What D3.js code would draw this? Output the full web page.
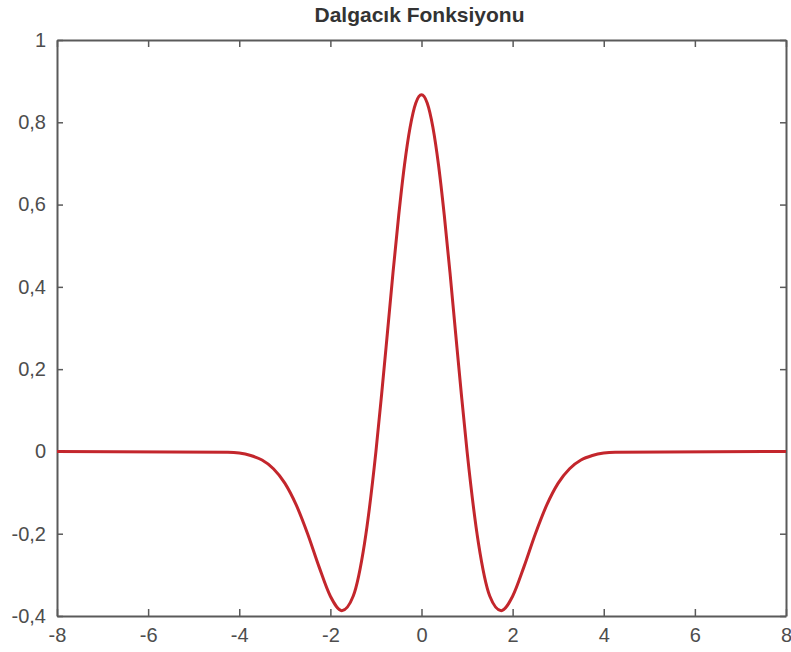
<!DOCTYPE html>
<html>
<head>
<meta charset="utf-8">
<title>Dalgacık Fonksiyonu</title>
<script src="https://d3js.org/d3.v7.min.js"></script>
<style>
  body { margin: 0; background: #fff; }
  svg text { font-family: "Liberation Sans", Arial, sans-serif; }
</style>
</head>
<body>
<div id="chart"></div>
<script>
// values (symmetric curve, flat zero outside |x| > 4.25)
var xs = [-8, -4.25, -4, -3.75, -3.5, -3.25, -3, -2.75, -2.5, -2.25, -2, -1.75, -1.5, -1.25, -1,
          -0.875, -0.75, -0.625, -0.5, -0.375, -0.25, -0.125, 0, 0.125, 0.25, 0.375, 0.5, 0.625, 0.75, 0.875,
          1, 1.25, 1.5, 1.75, 2, 2.25, 2.5, 2.75, 3, 3.25, 3.5, 3.75, 4, 4.25, 8];
var ys = [0, -0.002, -0.004, -0.010, -0.021, -0.042, -0.077, -0.130, -0.200, -0.280, -0.352, -0.387, -0.352, -0.223, 0,
          0.139, 0.286, 0.435, 0.574, 0.695, 0.788, 0.847, 0.867, 0.847, 0.788, 0.695, 0.574, 0.435, 0.286, 0.139,
          0, -0.223, -0.352, -0.387, -0.352, -0.280, -0.200, -0.130, -0.077, -0.042, -0.021, -0.010, -0.004, -0.002, 0];
var xTicks = [-8, -6, -4, -2, 0, 2, 4, 6, 8];
var yTicks = [-0.4, -0.2, 0, 0.2, 0.4, 0.6, 0.8, 1];
var title = "Dalgacık Fonksiyonu";

var W = 791, H = 652;
var m = {left: 57, right: 786, top: 40, bottom: 616};

var svg = d3.select("#chart").append("svg")
  .attr("width", W).attr("height", H);

var x = d3.scaleLinear().domain([-8, 8]).range([m.left, m.right]);
var y = d3.scaleLinear().domain([-0.4, 1]).range([m.bottom, m.top]);

// decimal comma, plain hyphen for minus
var tr = d3.formatLocale({decimal: ",", thousands: ".", grouping: [3], currency: ["", ""], minus: "-"});
var fmtY = function(d) { return d === 0 || d === 1 ? String(d) : tr.format(".1f")(d); };
var fmtX = tr.format("d");

var axisColor = "#5a5a5a";

// bottom & top axes, ticks pointing inward
var gx = svg.append("g").attr("transform", "translate(0," + m.bottom + ")")
  .call(d3.axisBottom(x).tickValues(xTicks).tickSizeInner(-7).tickSizeOuter(0).tickPadding(12).tickFormat(fmtX));
var gxt = svg.append("g").attr("transform", "translate(0," + m.top + ")")
  .call(d3.axisTop(x).tickValues(xTicks).tickSizeInner(-7).tickSizeOuter(0).tickFormat(""));
var gy = svg.append("g").attr("transform", "translate(" + m.left + ",0)")
  .call(d3.axisLeft(y).tickValues(yTicks).tickSizeInner(-6).tickSizeOuter(0).tickPadding(11).tickFormat(fmtY));
var gyr = svg.append("g").attr("transform", "translate(" + m.right + ",0)")
  .call(d3.axisRight(y).tickValues(yTicks).tickSizeInner(-6).tickSizeOuter(0).tickFormat(""));

[gx, gxt, gy, gyr].forEach(function(g) {
  g.select(".domain").attr("stroke", axisColor).attr("stroke-width", 2);
  g.selectAll(".tick line").attr("stroke", axisColor).attr("stroke-width", 1.5);
  g.selectAll(".tick text").attr("fill", "#4d4d4d").style("font-size", "20px");
});

// curve
var line = d3.line()
  .x(function(d, i) { return x(xs[i]); })
  .y(function(d) { return y(d); })
  .curve(d3.curveMonotoneX);

svg.append("path")
  .datum(ys)
  .attr("fill", "none")
  .attr("stroke", "#c3262c")
  .attr("stroke-width", 3)
  .attr("stroke-linejoin", "round")
  .attr("d", line);

// title
svg.append("text")
  .attr("x", (m.left + m.right) / 2 - 2)
  .attr("y", 22)
  .attr("text-anchor", "middle")
  .attr("fill", "#333")
  .style("font-size", "21px")
  .style("font-weight", "bold")
  .text(title);
</script>
</body>
</html>
